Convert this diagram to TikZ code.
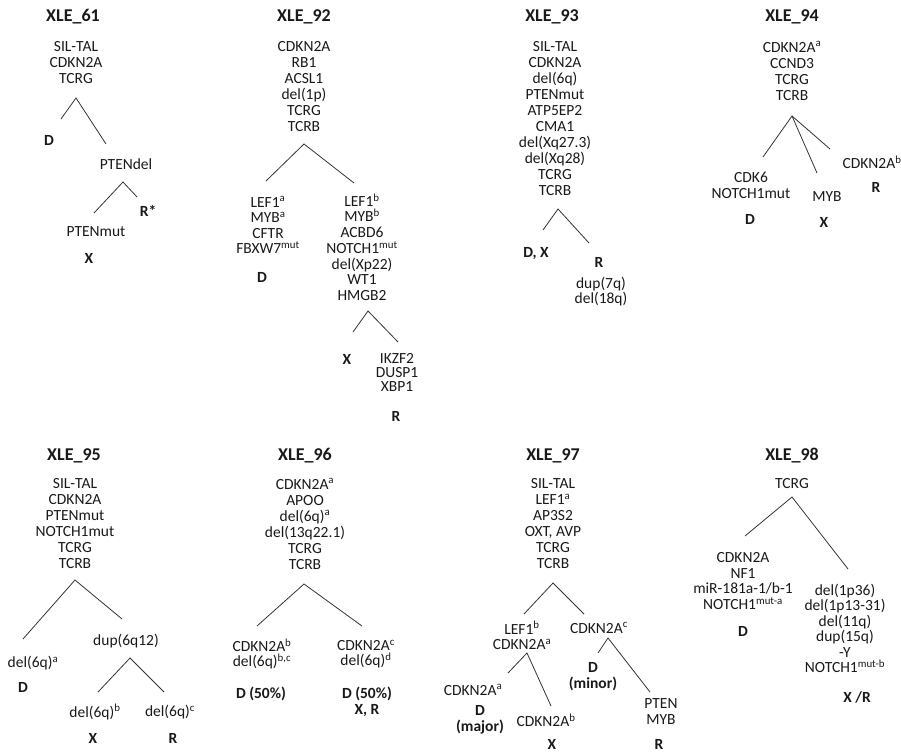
\documentclass[tikz,border=0pt]{standalone}
\usepackage{fontspec}
\setmainfont{Carlito}
\begin{document}
\begin{tikzpicture}[x=1pt,y=-1pt,
every node/.style={text=black!90,inner sep=0pt},
gene/.style={align=center,font=\fontsize{15.5}{16}\selectfont},
clone/.style={align=center,font=\fontsize{15.5}{#1}\selectfont},
clone/.default=15.5,
site/.style={align=center,font=\bfseries\fontsize{15.5}{16}\selectfont},
title/.style={anchor=base,font=\bfseries\fontsize{18}{20}\selectfont},
branch/.style={line width=0.8pt,black!80}]
\useasboundingbox (0,0) rectangle (901,752);
\node[title](t61) at (73,22) {XLE\_61};
\node[gene](r61) at (76,63) {SIL-TAL\\CDKN2A\\TCRG};
\coordinate (a61) at (76,98);
\coordinate (a61l) at (61,119);
\coordinate (a61r) at (106,144);
\draw[branch](a61l)--(a61)--(a61r);
\node[site](d61) at (49,140) {D};
\node[gene](p61) at (126,164) {PTENdel};
\coordinate (b61) at (123,182);
\coordinate (b61l) at (94,213);
\coordinate (b61r) at (137,197);
\draw[branch](b61l)--(b61)--(b61r);
\node[site](rr61) at (148,211) {R*};
\node[gene](m61) at (96,232) {PTENmut};
\node[site](x61) at (89,258) {X};

\node[title](t92) at (304,22) {XLE\_92};
\node[gene](r92) at (304,87) {CDKN2A\\RB1\\ACSL1\\del(1p)\\TCRG\\TCRB};
\coordinate (a92) at (304,144);
\coordinate (a92l) at (266,181);
\coordinate (a92r) at (354,183);
\draw[branch](a92l)--(a92)--(a92r);
\node[clone](l92) at (268,225) {LEF1\textsuperscript{a}\\MYB\textsuperscript{a}\\CFTR\\FBXW7\textsuperscript{mut}};
\node[site](d92) at (262,277) {D};
\node[clone=15.7](c92) at (362,247) {LEF1\textsuperscript{b}\\MYB\textsuperscript{b}\\ACBD6\\NOTCH1\textsuperscript{mut}\\del(Xp22)\\WT1\\HMGB2};
\coordinate (b92) at (368,311);
\coordinate (b92l) at (353,332);
\coordinate (b92r) at (398,342);
\draw[branch](b92l)--(b92)--(b92r);
\node[site](x92) at (347,359) {X};
\node[clone=14](k92) at (397,372) {IKZF2\\DUSP1\\XBP1};
\node[site](rr92) at (396,416) {R};

\node[title](t93) at (552,22) {XLE\_93};
\node[gene](r93) at (555,119) {SIL-TAL\\CDKN2A\\del(6q)\\PTENmut\\ATP5EP2\\CMA1\\del(Xq27.3)\\del(Xq28)\\TCRG\\TCRB};
\coordinate (a93) at (558,209);
\coordinate (a93l) at (543,230);
\coordinate (a93r) at (589,243);
\draw[branch](a93l)--(a93)--(a93r);
\node[site](dx93) at (536,254) {D, X};
\node[site](rr93) at (599,262) {R};
\node[clone=12](u93) at (601,291.5) {dup(7q)\\del(18q)};

\node[title](t94) at (792,22) {XLE\_94};
\node[gene](r94) at (792,71) {CDKN2A\textsuperscript{a}\\CCND3\\TCRG\\TCRB};
\coordinate (a94) at (792,116);
\coordinate (a94l) at (763,157);
\coordinate (a94m) at (817,173);
\coordinate (a94r) at (830,149);
\draw[branch](a94l)--(a94)--(a94m);
\draw[branch](a94)--(a94r);
\node[gene](c94) at (872,162) {CDKN2A\textsuperscript{b}};
\node[site](rr94) at (876,187) {R};
\node[gene](k94) at (751,185) {CDK6\\NOTCH1mut};
\node[gene](m94) at (827,197) {MYB};
\node[site](d94) at (750,219) {D};
\node[site](x94) at (824,222) {X};

\node[title](t95) at (74,460) {XLE\_95};
\node[gene](r95) at (75,524) {SIL-TAL\\CDKN2A\\PTENmut\\NOTCH1mut\\TCRG\\TCRB};
\coordinate (a95) at (75,580);
\coordinate (a95l) at (23,639);
\coordinate (a95r) at (122,619);
\draw[branch](a95l)--(a95)--(a95r);
\node[gene](u95) at (126,641) {dup(6q12)};
\node[gene](l95) at (33,663) {del(6q)\textsuperscript{a}};
\node[site](d95) at (23,687) {D};
\coordinate (b95) at (130,658);
\coordinate (b95l) at (98,692);
\coordinate (b95r) at (164,692);
\draw[branch](b95l)--(b95)--(b95r);
\node[gene](e95) at (95,712) {del(6q)\textsuperscript{b}};
\node[gene](f95) at (170,712) {del(6q)\textsuperscript{c}};
\node[site](x95) at (93,738) {X};
\node[site](rr95) at (173,738) {R};

\node[title](t96) at (305,460) {XLE\_96};
\node[gene](r96) at (305,524) {CDKN2A\textsuperscript{a}\\APOO\\del(6q)\textsuperscript{a}\\del(13q22.1)\\TCRG\\TCRB};
\coordinate (a96) at (304,584);
\coordinate (a96l) at (257,626);
\coordinate (a96r) at (362,626);
\draw[branch](a96l)--(a96)--(a96r);
\node[clone](l96) at (262,654) {CDKN2A\textsuperscript{b}\\del(6q)\textsuperscript{b,c}};
\node[clone](c96) at (366,654) {CDKN2A\textsuperscript{c}\\del(6q)\textsuperscript{d}};
\node[site](d96) at (261,694) {D (50\%)};
\node[site](dx96) at (367,702) {D (50\%)\\X, R};

\node[title](t97) at (553,460) {XLE\_97};
\node[gene](r97) at (553,524) {SIL-TAL\\LEF1\textsuperscript{a}\\AP3S2\\OXT, AVP\\TCRG\\TCRB};
\coordinate (a97) at (553,583);
\coordinate (a97l) at (524,614);
\coordinate (a97r) at (584,614);
\draw[branch](a97l)--(a97)--(a97r);
\node[clone](l97) at (522,635.5) {LEF1\textsuperscript{b}\\CDKN2A\textsuperscript{a}};
\node[gene](c97) at (599,628) {CDKN2A\textsuperscript{c}};
\coordinate (b97) at (527,653);
\coordinate (b97l) at (508,673);
\coordinate (b97r) at (551,706);
\draw[branch](b97l)--(b97)--(b97r);
\coordinate (e97) at (608,638);
\coordinate (e97l) at (598,653);
\coordinate (e97r) at (650,692);
\draw[branch](e97l)--(e97)--(e97r);
\node[site](dm97) at (593,677) {D\\(minor)};
\node[gene](g97) at (473,690) {CDKN2A\textsuperscript{a}};
\node[site](dj97) at (480,719.5) {D\\(major)};
\node[gene](h97) at (546,720) {CDKN2A\textsuperscript{b}};
\node[site](x97) at (552,744) {X};
\node[clone=16](p97) at (661,711.5) {PTEN\\MYB};
\node[site](rr97) at (659,744) {R};

\node[title](t98) at (792,460) {XLE\_98};
\node[gene](r98) at (792,484) {TCRG};
\coordinate (a98) at (792,497);
\coordinate (a98l) at (745,536);
\coordinate (a98r) at (848,569);
\draw[branch](a98l)--(a98)--(a98r);
\node[clone](l98) at (743,581) {CDKN2A\\NF1\\miR-181a-1/b-1\\NOTCH1\textsuperscript{mut-a}};
\node[site](d98) at (743,631) {D};
\node[clone](c98) at (845,628.5) {del(1p36)\\del(1p13-31)\\del(11q)\\dup(15q)\\-Y\\NOTCH1\textsuperscript{mut-b}};
\node[site](xr98) at (857,697) {X /R};
\end{tikzpicture}
\end{document}
